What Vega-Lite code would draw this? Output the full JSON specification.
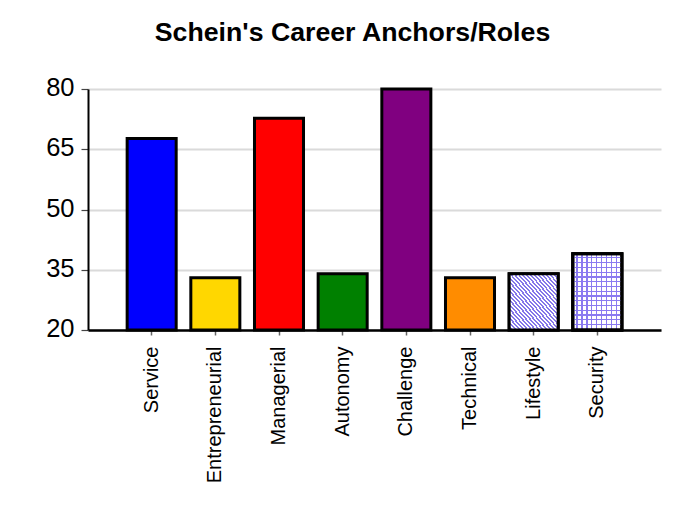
{
  "$schema": "https://vega.github.io/schema/vega-lite/v6.json",
  "width": 573,
  "height": 241,
  "autosize": "none",
  "padding": {"left": 88, "top": 89, "right": 27, "bottom": 192},
  "background": "white",
  "config": {"view": {"stroke": null}, "font": "Liberation Sans"},
  "title": {
    "text": "Schein's Career Anchors/Roles",
    "font": "Liberation Sans",
    "fontSize": 26.7,
    "fontWeight": "bold",
    "color": "black",
    "anchor": "middle",
    "dx": -22,
    "baseline": "alphabetic",
    "offset": 8
  },
  "data": {
    "values": [
      {"role": "Service", "score": 67.7},
      {"role": "Entrepreneurial", "score": 33},
      {"role": "Managerial", "score": 72.7},
      {"role": "Autonomy", "score": 34},
      {"role": "Challenge", "score": 80},
      {"role": "Technical", "score": 33},
      {"role": "Lifestyle", "score": 34},
      {"role": "Security", "score": 39}
    ]
  },
  "encoding": {
    "x": {
      "field": "role",
      "type": "nominal",
      "sort": null,
      "scale": {"paddingInner": 0.23, "paddingOuter": 0.615},
      "axis": {
        "title": null,
        "labelAngle": -90,
        "labelAlign": "right",
        "labelBaseline": "middle",
        "labelFont": "Liberation Sans",
        "labelFontSize": 20,
        "labelColor": "black",
        "labelPadding": 11,
        "tickColor": "#666666",
        "tickSize": 5,
        "tickWidth": 1.5,
        "domainColor": "black",
        "domainWidth": 2.5,
        "grid": false
      }
    },
    "y": {
      "field": "score",
      "type": "quantitative",
      "scale": {"domain": [20, 80], "zero": false, "nice": false},
      "axis": {
        "title": null,
        "values": [20, 35, 50, 65, 80],
        "labelFont": "Liberation Sans",
        "labelFontSize": 25.5,
        "labelColor": "black",
        "labelPadding": 7,
        "labelOffset": -1.5,
        "tickColor": "#444444",
        "tickSize": 7,
        "tickWidth": 1.2,
        "domainColor": "black",
        "domainWidth": 2,
        "grid": true,
        "gridColor": "#dadada",
        "gridWidth": 2
      }
    },
    "y2": {"datum": 20}
  },
  "layer": [
    {
      "mark": {"type": "bar", "stroke": "black", "strokeWidth": 3},
      "encoding": {
        "fill": {
          "field": "role",
          "type": "nominal",
          "legend": null,
          "scale": {
            "domain": ["Service", "Entrepreneurial", "Managerial", "Autonomy", "Challenge", "Technical", "Lifestyle", "Security"],
            "range": ["#0000ff", "#ffd700", "#ff0000", "#008000", "#800080", "#ff8c00", "#ffffff", "#ffffff"]
          }
        }
      }
    },
    {
      "transform": [{"filter": "datum.role === 'Lifestyle'"}],
      "mark": {
        "type": "bar",
        "stroke": "black",
        "strokeWidth": 3,
        "fill": {
          "gradient": "linear",
          "x1": 0, "y1": 1, "x2": 1, "y2": 0,
          "stops": [
            {"offset": 0, "color": "#ffffff"}, {"offset": 0.02, "color": "#ffffff"}, {"offset": 0.02, "color": "#8577ea"}, {"offset": 0.04, "color": "#8577ea"},
            {"offset": 0.04, "color": "#ffffff"}, {"offset": 0.06, "color": "#ffffff"}, {"offset": 0.06, "color": "#8577ea"}, {"offset": 0.08, "color": "#8577ea"},
            {"offset": 0.08, "color": "#ffffff"}, {"offset": 0.10, "color": "#ffffff"}, {"offset": 0.10, "color": "#8577ea"}, {"offset": 0.12, "color": "#8577ea"},
            {"offset": 0.12, "color": "#ffffff"}, {"offset": 0.14, "color": "#ffffff"}, {"offset": 0.14, "color": "#8577ea"}, {"offset": 0.16, "color": "#8577ea"},
            {"offset": 0.16, "color": "#ffffff"}, {"offset": 0.18, "color": "#ffffff"}, {"offset": 0.18, "color": "#8577ea"}, {"offset": 0.20, "color": "#8577ea"},
            {"offset": 0.20, "color": "#ffffff"}, {"offset": 0.22, "color": "#ffffff"}, {"offset": 0.22, "color": "#8577ea"}, {"offset": 0.24, "color": "#8577ea"},
            {"offset": 0.24, "color": "#ffffff"}, {"offset": 0.26, "color": "#ffffff"}, {"offset": 0.26, "color": "#8577ea"}, {"offset": 0.28, "color": "#8577ea"},
            {"offset": 0.28, "color": "#ffffff"}, {"offset": 0.30, "color": "#ffffff"}, {"offset": 0.30, "color": "#8577ea"}, {"offset": 0.32, "color": "#8577ea"},
            {"offset": 0.32, "color": "#ffffff"}, {"offset": 0.34, "color": "#ffffff"}, {"offset": 0.34, "color": "#8577ea"}, {"offset": 0.36, "color": "#8577ea"},
            {"offset": 0.36, "color": "#ffffff"}, {"offset": 0.38, "color": "#ffffff"}, {"offset": 0.38, "color": "#8577ea"}, {"offset": 0.40, "color": "#8577ea"},
            {"offset": 0.40, "color": "#ffffff"}, {"offset": 0.42, "color": "#ffffff"}, {"offset": 0.42, "color": "#8577ea"}, {"offset": 0.44, "color": "#8577ea"},
            {"offset": 0.44, "color": "#ffffff"}, {"offset": 0.46, "color": "#ffffff"}, {"offset": 0.46, "color": "#8577ea"}, {"offset": 0.48, "color": "#8577ea"},
            {"offset": 0.48, "color": "#ffffff"}, {"offset": 0.50, "color": "#ffffff"}, {"offset": 0.50, "color": "#8577ea"}, {"offset": 0.52, "color": "#8577ea"},
            {"offset": 0.52, "color": "#ffffff"}, {"offset": 0.54, "color": "#ffffff"}, {"offset": 0.54, "color": "#8577ea"}, {"offset": 0.56, "color": "#8577ea"},
            {"offset": 0.56, "color": "#ffffff"}, {"offset": 0.58, "color": "#ffffff"}, {"offset": 0.58, "color": "#8577ea"}, {"offset": 0.60, "color": "#8577ea"},
            {"offset": 0.60, "color": "#ffffff"}, {"offset": 0.62, "color": "#ffffff"}, {"offset": 0.62, "color": "#8577ea"}, {"offset": 0.64, "color": "#8577ea"},
            {"offset": 0.64, "color": "#ffffff"}, {"offset": 0.66, "color": "#ffffff"}, {"offset": 0.66, "color": "#8577ea"}, {"offset": 0.68, "color": "#8577ea"},
            {"offset": 0.68, "color": "#ffffff"}, {"offset": 0.70, "color": "#ffffff"}, {"offset": 0.70, "color": "#8577ea"}, {"offset": 0.72, "color": "#8577ea"},
            {"offset": 0.72, "color": "#ffffff"}, {"offset": 0.74, "color": "#ffffff"}, {"offset": 0.74, "color": "#8577ea"}, {"offset": 0.76, "color": "#8577ea"},
            {"offset": 0.76, "color": "#ffffff"}, {"offset": 0.78, "color": "#ffffff"}, {"offset": 0.78, "color": "#8577ea"}, {"offset": 0.80, "color": "#8577ea"},
            {"offset": 0.80, "color": "#ffffff"}, {"offset": 0.82, "color": "#ffffff"}, {"offset": 0.82, "color": "#8577ea"}, {"offset": 0.84, "color": "#8577ea"},
            {"offset": 0.84, "color": "#ffffff"}, {"offset": 0.86, "color": "#ffffff"}, {"offset": 0.86, "color": "#8577ea"}, {"offset": 0.88, "color": "#8577ea"},
            {"offset": 0.88, "color": "#ffffff"}, {"offset": 0.90, "color": "#ffffff"}, {"offset": 0.90, "color": "#8577ea"}, {"offset": 0.92, "color": "#8577ea"},
            {"offset": 0.92, "color": "#ffffff"}, {"offset": 0.94, "color": "#ffffff"}, {"offset": 0.94, "color": "#8577ea"}, {"offset": 0.96, "color": "#8577ea"},
            {"offset": 0.96, "color": "#ffffff"}, {"offset": 0.98, "color": "#ffffff"}, {"offset": 0.98, "color": "#8577ea"}, {"offset": 1, "color": "#8577ea"}
          ]
        }
      }
    },
    {
      "transform": [{"filter": "datum.role === 'Security'"}],
      "mark": {
        "type": "bar",
        "stroke": "black",
        "strokeWidth": 3,
        "fill": {
          "gradient": "linear",
          "x1": 0, "y1": 0, "x2": 1, "y2": 0,
          "stops": [
            {"offset": 0, "color": "#ffffff"}, {"offset": 0.075, "color": "#ffffff"}, {"offset": 0.075, "color": "#8a7af0"}, {"offset": 0.1, "color": "#8a7af0"},
            {"offset": 0.1, "color": "#ffffff"}, {"offset": 0.175, "color": "#ffffff"}, {"offset": 0.175, "color": "#8a7af0"}, {"offset": 0.2, "color": "#8a7af0"},
            {"offset": 0.2, "color": "#ffffff"}, {"offset": 0.275, "color": "#ffffff"}, {"offset": 0.275, "color": "#8a7af0"}, {"offset": 0.3, "color": "#8a7af0"},
            {"offset": 0.3, "color": "#ffffff"}, {"offset": 0.375, "color": "#ffffff"}, {"offset": 0.375, "color": "#8a7af0"}, {"offset": 0.4, "color": "#8a7af0"},
            {"offset": 0.4, "color": "#ffffff"}, {"offset": 0.475, "color": "#ffffff"}, {"offset": 0.475, "color": "#8a7af0"}, {"offset": 0.5, "color": "#8a7af0"},
            {"offset": 0.5, "color": "#ffffff"}, {"offset": 0.575, "color": "#ffffff"}, {"offset": 0.575, "color": "#8a7af0"}, {"offset": 0.6, "color": "#8a7af0"},
            {"offset": 0.6, "color": "#ffffff"}, {"offset": 0.675, "color": "#ffffff"}, {"offset": 0.675, "color": "#8a7af0"}, {"offset": 0.7, "color": "#8a7af0"},
            {"offset": 0.7, "color": "#ffffff"}, {"offset": 0.775, "color": "#ffffff"}, {"offset": 0.775, "color": "#8a7af0"}, {"offset": 0.8, "color": "#8a7af0"},
            {"offset": 0.8, "color": "#ffffff"}, {"offset": 0.875, "color": "#ffffff"}, {"offset": 0.875, "color": "#8a7af0"}, {"offset": 0.9, "color": "#8a7af0"},
            {"offset": 0.9, "color": "#ffffff"}, {"offset": 0.975, "color": "#ffffff"}, {"offset": 0.975, "color": "#8a7af0"}, {"offset": 1, "color": "#8a7af0"}
          ]
        }
      }
    },
    {
      "transform": [{"filter": "datum.role === 'Security'"}],
      "mark": {
        "type": "bar",
        "stroke": "black",
        "strokeWidth": 3,
        "fill": {
          "gradient": "linear",
          "x1": 0, "y1": 0, "x2": 0, "y2": 1,
          "stops": [
            {"offset": 0, "color": "rgba(138,122,240,0)"}, {"offset": 0.046875, "color": "rgba(138,122,240,0)"}, {"offset": 0.046875, "color": "#8a7af0"}, {"offset": 0.0625, "color": "#8a7af0"},
            {"offset": 0.0625, "color": "rgba(138,122,240,0)"}, {"offset": 0.109375, "color": "rgba(138,122,240,0)"}, {"offset": 0.109375, "color": "#8a7af0"}, {"offset": 0.125, "color": "#8a7af0"},
            {"offset": 0.125, "color": "rgba(138,122,240,0)"}, {"offset": 0.171875, "color": "rgba(138,122,240,0)"}, {"offset": 0.171875, "color": "#8a7af0"}, {"offset": 0.1875, "color": "#8a7af0"},
            {"offset": 0.1875, "color": "rgba(138,122,240,0)"}, {"offset": 0.234375, "color": "rgba(138,122,240,0)"}, {"offset": 0.234375, "color": "#8a7af0"}, {"offset": 0.25, "color": "#8a7af0"},
            {"offset": 0.25, "color": "rgba(138,122,240,0)"}, {"offset": 0.296875, "color": "rgba(138,122,240,0)"}, {"offset": 0.296875, "color": "#8a7af0"}, {"offset": 0.3125, "color": "#8a7af0"},
            {"offset": 0.3125, "color": "rgba(138,122,240,0)"}, {"offset": 0.359375, "color": "rgba(138,122,240,0)"}, {"offset": 0.359375, "color": "#8a7af0"}, {"offset": 0.375, "color": "#8a7af0"},
            {"offset": 0.375, "color": "rgba(138,122,240,0)"}, {"offset": 0.421875, "color": "rgba(138,122,240,0)"}, {"offset": 0.421875, "color": "#8a7af0"}, {"offset": 0.4375, "color": "#8a7af0"},
            {"offset": 0.4375, "color": "rgba(138,122,240,0)"}, {"offset": 0.484375, "color": "rgba(138,122,240,0)"}, {"offset": 0.484375, "color": "#8a7af0"}, {"offset": 0.5, "color": "#8a7af0"},
            {"offset": 0.5, "color": "rgba(138,122,240,0)"}, {"offset": 0.546875, "color": "rgba(138,122,240,0)"}, {"offset": 0.546875, "color": "#8a7af0"}, {"offset": 0.5625, "color": "#8a7af0"},
            {"offset": 0.5625, "color": "rgba(138,122,240,0)"}, {"offset": 0.609375, "color": "rgba(138,122,240,0)"}, {"offset": 0.609375, "color": "#8a7af0"}, {"offset": 0.625, "color": "#8a7af0"},
            {"offset": 0.625, "color": "rgba(138,122,240,0)"}, {"offset": 0.671875, "color": "rgba(138,122,240,0)"}, {"offset": 0.671875, "color": "#8a7af0"}, {"offset": 0.6875, "color": "#8a7af0"},
            {"offset": 0.6875, "color": "rgba(138,122,240,0)"}, {"offset": 0.734375, "color": "rgba(138,122,240,0)"}, {"offset": 0.734375, "color": "#8a7af0"}, {"offset": 0.75, "color": "#8a7af0"},
            {"offset": 0.75, "color": "rgba(138,122,240,0)"}, {"offset": 0.796875, "color": "rgba(138,122,240,0)"}, {"offset": 0.796875, "color": "#8a7af0"}, {"offset": 0.8125, "color": "#8a7af0"},
            {"offset": 0.8125, "color": "rgba(138,122,240,0)"}, {"offset": 0.859375, "color": "rgba(138,122,240,0)"}, {"offset": 0.859375, "color": "#8a7af0"}, {"offset": 0.875, "color": "#8a7af0"},
            {"offset": 0.875, "color": "rgba(138,122,240,0)"}, {"offset": 0.921875, "color": "rgba(138,122,240,0)"}, {"offset": 0.921875, "color": "#8a7af0"}, {"offset": 0.9375, "color": "#8a7af0"},
            {"offset": 0.9375, "color": "rgba(138,122,240,0)"}, {"offset": 0.984375, "color": "rgba(138,122,240,0)"}, {"offset": 0.984375, "color": "#8a7af0"}, {"offset": 1, "color": "#8a7af0"}
          ]
        }
      }
    }
  ]
}
